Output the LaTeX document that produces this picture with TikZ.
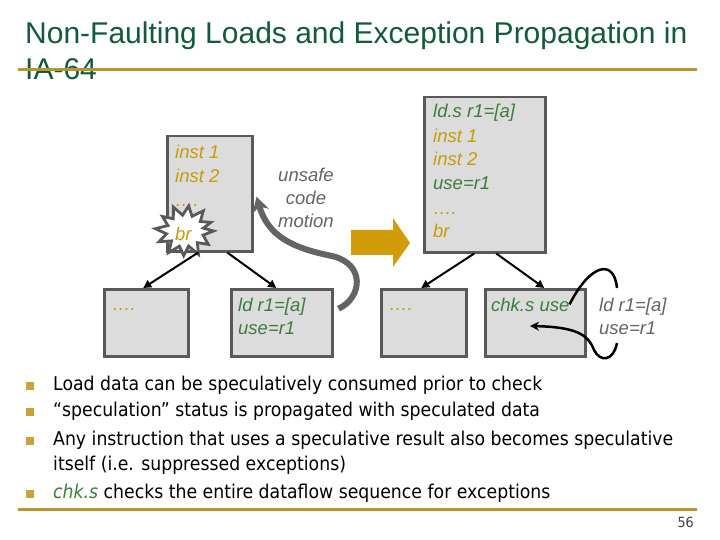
\documentclass[tikz,border=0pt]{standalone}
\usepackage{fontspec}
\setmainfont{Liberation Sans}
\newfontfamily\bfnt[FakeStretch=0.91]{DejaVu Sans}
\usetikzlibrary{arrows.meta,calc}
\definecolor{titlegreen}{RGB}{18,90,58}
\definecolor{rulegold}{RGB}{185,150,45}
\definecolor{boxfill}{RGB}{220,220,220}
\definecolor{boxline}{RGB}{89,89,89}
\definecolor{goldtxt}{RGB}{200,155,10}
\definecolor{greentxt}{RGB}{60,125,60}
\definecolor{greytxt}{RGB}{100,100,100}
\definecolor{arrowgold}{RGB}{210,155,10}
\definecolor{bulletgold}{RGB}{200,165,60}
\begin{document}
\begin{tikzpicture}[x=1bp,y=-1bp,
  titletext/.style={font=\fontsize{30bp}{34bp}\selectfont, text=titlegreen, anchor=base west, inner sep=0},
  rule/.style={draw=rulegold, line width=3bp},
  box/.style={draw=boxline, fill=boxfill, line width=2.5bp, inner sep=0, anchor=north west},
  btxt/.style={font=\fontsize{18.5bp}{21bp}\selectfont\itshape, anchor=base west, inner sep=0},
  gold/.style={btxt, text=goldtxt},
  green/.style={btxt, text=greentxt},
  grey/.style={btxt, text=greytxt},
  arr/.style={draw=black, line width=2bp, -{Triangle[length=8bp,width=8bp]}},
  bsq/.style={fill=bulletgold, minimum size=7.5bp, inner sep=0},
  bullettxt/.style={font=\bfnt\fontsize{19bp}{22bp}\selectfont, anchor=base west, inner sep=0, text=black},
  starb/.style={draw=boxline, fill=white, line width=2.8bp, line join=miter, miter limit=4}
]
\useasboundingbox (0,0) rectangle (720,540);
\fill[white] (0,0) rectangle (720,540);

% title
\node[titletext] (t1) at (25,44) {Non-Faulting Loads and Exception Propagation in};
\node[titletext] (t2) at (25,80) {IA-64};
\coordinate (r1a) at (18,70); \coordinate (r1b) at (697,70);
\draw[rule] (r1a) -- (r1b);

% left group
\node[box, minimum width=85bp, minimum height=115bp] (A) at (166,135) {};
\node[box, minimum width=84bp, minimum height=67bp] (B) at (103,288) {};
\node[box, minimum width=101bp, minimum height=67bp] (C) at (230,288) {};
\node[gold] (a1) at (175,159) {inst 1};
\node[gold] (a2) at (175,183) {inst 2};
\node[gold] (a3) at (175,207) {….};
\begin{scope}[shift={(185,231)}, scale=1.1]
\draw[starb] (0:26 and 24) -- (15:17 and 14.5) -- (32:25 and 23) -- (47:16.5 and 14.5)
 -- (62:26 and 24) -- (78:16 and 14) -- (93:23 and 22.5) -- (108:16.5 and 14.5)
 -- (125:26 and 24) -- (140:16 and 14) -- (155:26 and 23) -- (170:17 and 15)
 -- (185:27 and 24) -- (200:16.5 and 14.5) -- (215:25 and 23) -- (230:16.5 and 14.5)
 -- (245:25 and 24) -- (262:16 and 14.5) -- (278:24 and 23) -- (293:16.5 and 14.5)
 -- (310:26 and 24) -- (325:17 and 15) -- (340:25 and 23) -- (350:17 and 15) -- cycle;
\end{scope}
\node[gold] (a4) at (175,241) {br};
\node[gold] (bdots) at (112,310) {….};
\node[green] (c1) at (238,311) {ld r1=[a]};
\node[green] (c2) at (238,334) {use=r1};
\node[grey, anchor=base] (u1) at (306,182) {unsafe};
\node[grey, anchor=base] (u2) at (306,205) {code};
\node[grey, anchor=base] (u3) at (306,228) {motion};
\draw[arr] ([xshift=-11.5bp]A.south) -- ([xshift=-3bp]B.north);
\draw[arr] ([xshift=17.5bp]A.south) -- ([xshift=-5.5bp]C.north);
\draw[draw=greytxt, line width=6bp, -{Stealth[length=15bp,width=17bp]}]
  ($(C.east)+(5,-14)$) .. controls (362,298) and (366,264) .. (332,256)
  .. controls (292,248) and (268,236) .. ($(A.east)+(3,3)$);

% gold block arrow
\fill[arrowgold] (351,230) -- (393,230) -- (393,218) -- (410,243) -- (393,267) -- (393,255) -- (351,255) -- cycle;

% right group
\node[box, minimum width=121bp, minimum height=155bp] (D) at (423,96) {};
\node[box, minimum width=85bp, minimum height=67bp] (E) at (380,288) {};
\node[box, minimum width=100bp, minimum height=67bp] (F) at (484,288) {};
\node[green] (d1) at (433,118) {ld.s r1=[a]};
\node[gold] (d2) at (433,143) {inst 1};
\node[gold] (d3) at (433,166) {inst 2};
\node[green] (d4) at (433,190) {use=r1};
\node[gold] (d5) at (433,215) {….};
\node[gold] (d6) at (433,238) {br};
\node[gold] (edots) at (389,310) {….};
\node[green] (f1) at (491,311) {chk.s use};
\node[grey] (g1) at (599,311) {ld r1=[a]};
\node[grey] (g2) at (599,334) {use=r1};
\draw[arr] ([xshift=-10.5bp]D.south) -- ([xshift=-2.5bp]E.north);
\draw[arr] ([xshift=11.5bp]D.south) -- ([xshift=9bp]F.north);
\draw[line width=2.5bp] (f1.east) .. controls (590,264) and (614,258) .. (617,288);
\draw[line width=2.5bp, -{Stealth[length=9bp,width=9bp]}] (617,343) .. controls (613,362) and (600,362) .. (594,350)
  .. controls (588,334) and (575,327) .. (530,326);

% bullets
\node[bsq] (s1) at (30,386) {};
\node[bsq] (s2) at (30,412) {};
\node[bsq] (s3) at (30,441) {};
\node[bsq] (s4) at (30,494) {};
\node[bullettxt] (l1) at (53,390.5) {Load data can be speculatively consumed prior to check};
\node[bullettxt] (l2) at (53,416.5) {“speculation” status is propagated with speculated data};
\node[bullettxt] (l3) at (53,445.5) {Any instruction that uses a speculative result also becomes speculative};
\node[bullettxt] (l4) at (53,470.5) {itself (i.e. suppressed exceptions)};
\node[bullettxt] (l5) at (53,498.5) {{\color{greentxt}\itshape chk.s} checks the entire dataflow sequence for exceptions};
\coordinate (r2a) at (18,509); \coordinate (r2b) at (697,509);
\draw[rule] (r2a) -- (r2b);
\node[font=\bfnt\fontsize{14bp}{16bp}\selectfont, text=black!75, anchor=base east, inner sep=0] (pg) at (694,527) {56};
\end{tikzpicture}
\end{document}
